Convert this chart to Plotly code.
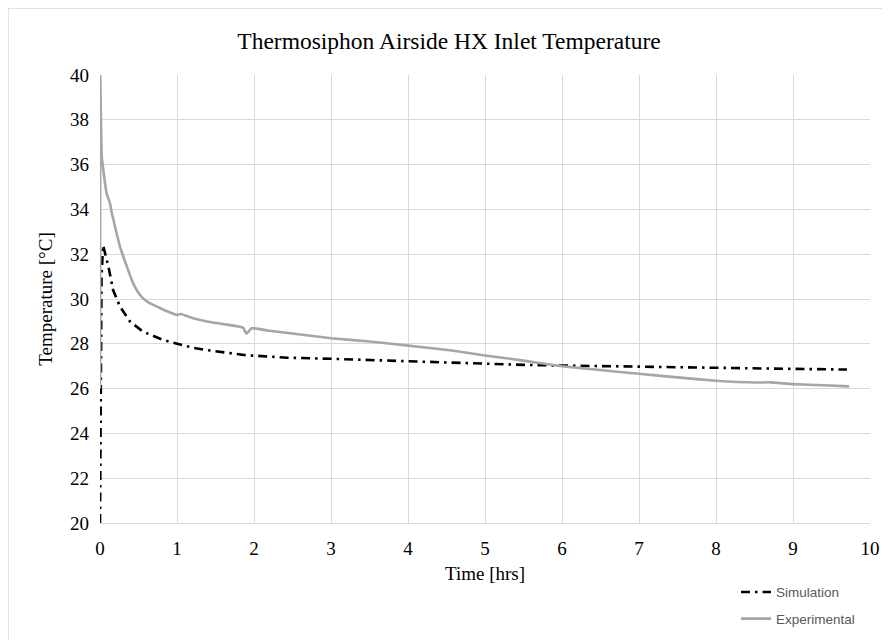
import plotly.graph_objects as go

title_text = "Thermosiphon Airside HX Inlet Temperature"

# Simulation (hrs, °C)
sim_t = [0.0, 0.0, 0.02, 0.04, 0.07, 0.11, 0.17, 0.26, 0.39, 0.56, 0.82, 1.05,
         1.2, 1.39, 1.6, 1.87, 2.1, 2.43, 3.0, 3.5, 4.0, 4.5, 5.0, 5.5, 6.0, 6.5, 7.0,
         7.5, 8.0, 8.5, 9.0, 9.5, 9.7]
sim_T = [20.0, 20.0, 31.0, 32.4, 32.0, 31.44, 30.4, 29.66, 28.99, 28.54, 28.17, 27.95,
         27.83, 27.72, 27.62, 27.5, 27.45, 27.38, 27.33, 27.27, 27.21, 27.16, 27.11, 27.06, 27.03, 27.0, 26.97,
         26.94, 26.91, 26.9, 26.88, 26.86, 26.85]

# Experimental (hrs, °C)
exp_t = [0.0, 0.003, 0.022, 0.043, 0.087, 0.13, 0.15, 0.195, 0.26, 0.35, 0.43, 0.52, 0.585,
         0.65, 0.74, 0.87, 1.0, 1.05, 1.2, 1.39, 1.6, 1.86, 1.9, 1.97, 2.2, 2.47, 3.0, 3.5,
         4.0, 4.57, 5.0, 5.5, 6.0, 6.5, 7.0, 7.5, 8.0, 8.5, 8.7, 9.0, 9.4, 9.73]
exp_T = [26.0, 40.0, 36.4, 35.76, 34.7, 34.27, 33.9, 33.23, 32.33, 31.44, 30.7, 30.18, 29.95,
         29.8, 29.66, 29.45, 29.29, 29.33, 29.15, 29.0, 28.88, 28.72, 28.45, 28.69, 28.58, 28.47, 28.25, 28.1,
         27.92, 27.7, 27.48, 27.25, 27.0, 26.83, 26.66, 26.5, 26.35, 26.27, 26.28, 26.2, 26.15, 26.1]

x_ticks = list(range(0, 11))
y_ticks = list(range(20, 41, 2))

fig = go.Figure()
fig.add_trace(go.Scatter(
    x=sim_t, y=sim_T, mode="lines", name="Simulation", legendgroup="sim",
    line=dict(color="black", width=2.6, dash="9px,5px,2.5px,5px"),
))
fig.add_trace(go.Scatter(
    x=exp_t, y=exp_T, mode="lines", name="Experimental", legendgroup="exp",
    line=dict(color="#a6a6a6", width=2.6, shape="spline", smoothing=0.4),
))

serif = "Liberation Serif, Times New Roman, serif"

fig.update_layout(
    width=882, height=632,
    margin=dict(l=92, r=20, t=67, b=117, autoexpand=False),
    paper_bgcolor="white", plot_bgcolor="white",
    title=dict(text=title_text, x=0.5, xanchor="center", y=0.948, yanchor="middle",
               font=dict(family=serif, size=23.5, color="black")),
    font=dict(family=serif, color="black"),
    xaxis=dict(range=[0, 10], tickvals=x_ticks, ticktext=[str(v) for v in x_ticks],
               showgrid=True, gridcolor="#d9d9d9", gridwidth=1.3,
               showline=True, linecolor="#d9d9d9", linewidth=1.3,
               zeroline=False, ticks="", ticklabelstandoff=8,
               tickfont=dict(family=serif, size=19),
               title=dict(text="Time [hrs]", font=dict(family=serif, size=19), standoff=8)),
    yaxis=dict(range=[20, 40], tickvals=y_ticks, ticktext=[str(v) for v in y_ticks],
               showgrid=True, gridcolor="#d9d9d9", gridwidth=1.3,
               showline=False, zeroline=False, ticks="", ticklabelstandoff=10,
               tickfont=dict(family=serif, size=19),
               title=dict(text="Temperature [°C]", font=dict(family=serif, size=19), standoff=12)),
    legend=dict(x=0.826, xanchor="left", y=-0.12, yanchor="top",
                orientation="v", bgcolor="rgba(0,0,0,0)",
                font=dict(family="Liberation Sans, Arial, sans-serif", size=13.5, color="#595959"),
                tracegroupgap=6),
    shapes=[dict(type="rect", xref="paper", yref="paper",
                 x0=-92/770, x1=1.2, y0=-0.5, y1=1 + 67/448,
                 line=dict(color="#d9d9d9", width=1.5), fillcolor="rgba(0,0,0,0)", layer="below")],
)

fig.write_html("out.html")
